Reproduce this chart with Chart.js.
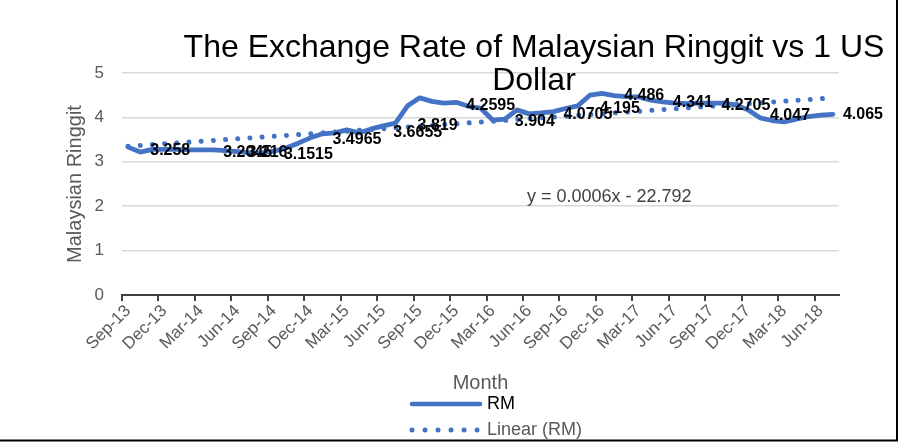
<!DOCTYPE html>
<html>
<head>
<meta charset="utf-8">
<script src="https://cdn.jsdelivr.net/npm/chart.js@4.4.0/dist/chart.umd.min.js"></script>
<style>html,body{margin:0;padding:0;background:#fff;overflow:hidden}canvas{display:block}</style>
</head>
<body>
<canvas id="c" width="901" height="446"></canvas>
<script>
// ---- data ----
const tickLabels = ['Sep-13','Dec-13','Mar-14','Jun-14','Sep-14','Dec-14','Mar-15','Jun-15','Sep-15','Dec-15',
  'Mar-16','Jun-16','Sep-16','Dec-16','Mar-17','Jun-17','Sep-17','Dec-17','Mar-18','Jun-18'];
// monthly RM per 1 USD, Sep-13 ... Jul-18
const rmValues = [3.33,3.22,3.28,3.28,3.28,3.27,3.27,3.27,3.25,3.23,
  3.20,3.20,3.24,3.31,3.42,3.54,3.63,3.65,3.72,3.65,
  3.74,3.81,3.87,4.26,4.44,4.36,4.32,4.34,4.25,4.21,
  3.94,3.96,4.17,4.08,4.10,4.13,4.20,4.26,4.50,4.54,
  4.49,4.47,4.46,4.39,4.35,4.32,4.31,4.32,4.32,4.32,
  4.28,4.17,3.99,3.93,3.90,3.96,4.02,4.05,4.07];
const labelIndex = [1,7,9,12,16,21,23,27,31,35,38,40,44,48,52,58];
const labelValues = [3.258,3.2045,3.216,3.1515,3.4965,3.6655,3.819,4.2595,3.904,4.0705,4.195,4.486,4.341,4.2705,4.047,4.065];
const trendEnds = [3.35, 4.44];
const equationText = 'y = 0.0006x - 22.792';
const titleLines = ['The Exchange Rate of Malaysian Ringgit vs 1 US', 'Dollar'];
const seriesName = 'RM';
const trendName = 'Linear (RM)';

const FONT = '"Liberation Sans", Arial, Helvetica, sans-serif';
const BLUE = '#4472C4';

const overlay = {
  id: 'overlay',
  afterDatasetsDraw(chart) {
    const {ctx, scales: {x, y}} = chart;
    ctx.save();
    ctx.font = 'bold 16px ' + FONT;
    ctx.fillStyle = '#000';
    ctx.textAlign = 'left';
    ctx.textBaseline = 'middle';
    labelIndex.forEach((idx, k) => {
      ctx.fillText(String(labelValues[k]), x.getPixelForValue(idx + 0.5) + 10, y.getPixelForValue(labelValues[k]));
    });
    ctx.font = '18px ' + FONT;
    ctx.fillStyle = '#404040';
    ctx.fillText(equationText, 527, 197);
    ctx.restore();
  },
  afterDraw(chart) {
    const ctx = chart.ctx;
    ctx.save();
    // title
    ctx.font = '32px ' + FONT;
    ctx.fillStyle = '#000';
    ctx.textAlign = 'center';
    ctx.textBaseline = 'middle';
    ctx.fillText(titleLines[0], 534, 48);
    ctx.fillText(titleLines[1], 534, 81);
    // legend
    ctx.lineCap = 'round';
    ctx.strokeStyle = BLUE;
    ctx.lineWidth = 4.5;
    ctx.beginPath(); ctx.moveTo(412, 404); ctx.lineTo(480, 404); ctx.stroke();
    ctx.setLineDash([0.01, 13]);
    ctx.lineWidth = 5;
    ctx.beginPath(); ctx.moveTo(412, 430); ctx.lineTo(479, 430); ctx.stroke();
    ctx.setLineDash([]);
    ctx.font = '18px ' + FONT;
    ctx.textAlign = 'left';
    ctx.fillStyle = '#000';
    ctx.fillText(seriesName, 487, 404);
    ctx.fillStyle = '#595959';
    ctx.fillText(trendName, 487, 430);
    // frame
    ctx.strokeStyle = '#000';
    ctx.lineWidth = 2;
    ctx.lineCap = 'butt';
    ctx.beginPath(); ctx.moveTo(897, 0); ctx.lineTo(897, 440.5); ctx.lineTo(0, 440.5); ctx.stroke();
    ctx.restore();
  }
};

new Chart(document.getElementById('c'), {
  type: 'line',
  data: {
    datasets: [
      {
        label: trendName,
        data: [{x: 0.5, y: trendEnds[0]}, {x: rmValues.length - 0.5, y: trendEnds[1]}],
        borderColor: BLUE,
        borderWidth: 5,
        borderDash: [0.01, 12.2],
        borderCapStyle: 'round',
        pointRadius: 0,
        fill: false,
        order: 0
      },
      {
        label: seriesName,
        data: rmValues.map((v, i) => ({x: i + 0.5, y: v})),
        borderColor: BLUE,
        borderWidth: 4.8,
        borderJoinStyle: 'round',
        borderCapStyle: 'round',
        tension: 0,
        pointRadius: 0,
        fill: false,
        order: 1
      }
    ]
  },
  options: {
    responsive: false,
    animation: false,
    events: [],
    layout: {padding: {top: 73, right: 62, bottom: 0, left: 0}},
    plugins: {legend: {display: false}, title: {display: false}, tooltip: {enabled: false}},
    scales: {
      x: {
        type: 'linear',
        min: 0,
        max: rmValues.length,
        afterBuildTicks: (s) => { s.ticks = tickLabels.map((t, i) => ({value: i * 3})); },
        afterFit: (s) => { s.height = 151; },
        ticks: {
          autoSkip: false,
          minRotation: 45,
          maxRotation: 45,
          color: '#595959',
          font: {family: FONT, size: 17},
          padding: 0,
          labelOffset: 6,
          callback: (v) => tickLabels[Math.round(v / 3)]
        },
        grid: {drawOnChartArea: false, drawTicks: true, tickLength: 6, color: '#404040', lineWidth: 2},
        border: {display: true, color: '#404040', width: 2},
        title: {display: true, text: 'Month', color: '#595959', font: {family: FONT, size: 20, lineHeight: 1.2}, padding: {top: 0, bottom: 51}}
      },
      y: {
        min: 0,
        max: 5,
        afterFit: (s) => { s.width = 122; },
        ticks: {stepSize: 1, color: '#595959', font: {family: FONT, size: 17}, padding: 18},
        grid: {color: '#d9d9d9', lineWidth: 1.5, drawTicks: false},
        border: {display: false},
        title: {display: true, text: 'Malaysian Ringgit', color: '#595959', font: {family: FONT, size: 20, lineHeight: 1.2}, padding: {top: 63, bottom: 0}}
      }
    }
  },
  plugins: [overlay]
});
</script>
</body>
</html>
